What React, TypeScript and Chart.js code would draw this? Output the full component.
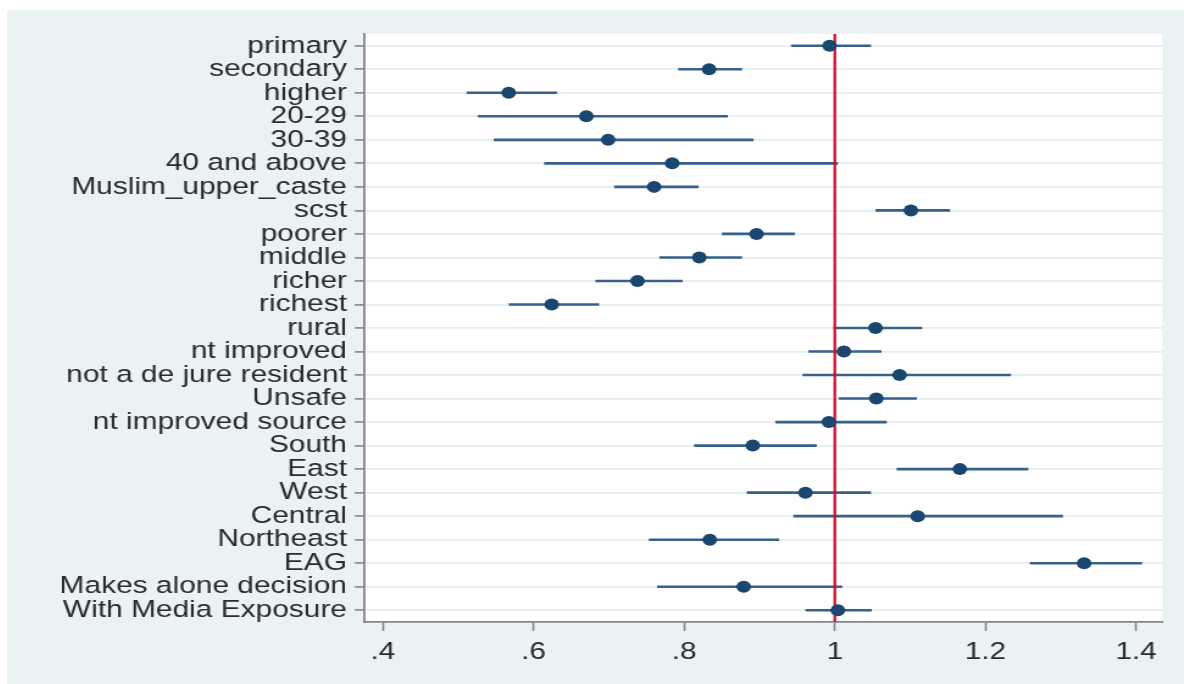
import React, { useEffect, useRef } from "react";
import { Chart, registerables } from "chart.js";

Chart.register(...registerables);

const categories = [
  "primary",
  "secondary",
  "higher",
  "20-29",
  "30-39",
  "40 and above",
  "Muslim_upper_caste",
  "scst",
  "poorer",
  "middle",
  "richer",
  "richest",
  "rural",
  "nt improved",
  "not a de jure resident",
  "Unsafe",
  "nt improved source",
  "South",
  "East",
  "West",
  "Central",
  "Northeast",
  "EAG",
  "Makes alone decision",
  "With Media Exposure",
];

const estimates = [
  0.993, 0.833, 0.567, 0.67, 0.699, 0.784, 0.76, 1.101, 0.896, 0.82, 0.738, 0.624,
  1.054, 1.012, 1.086, 1.055, 0.992, 0.891, 1.166, 0.961, 1.11, 0.834, 1.331, 0.879, 1.004,
];

const lower = [
  0.942, 0.792, 0.511, 0.526, 0.547, 0.614, 0.707, 1.054, 0.85, 0.767, 0.682, 0.567,
  0.998, 0.965, 0.957, 1.005, 0.921, 0.813, 1.082, 0.883, 0.945, 0.753, 1.259, 0.764, 0.961,
];

const upper = [
  1.048, 0.877, 0.631, 0.858, 0.892, 1.004, 0.819, 1.153, 0.947, 0.877, 0.798, 0.687,
  1.116, 1.062, 1.234, 1.109, 1.069, 0.976, 1.257, 1.048, 1.303, 0.926, 1.408, 1.01, 1.049,
];

const xTickValues = [0.4, 0.6, 0.8, 1, 1.2, 1.4];
const xTickLabels = [".4", ".6", ".8", "1", "1.2", "1.4"];
const referenceValue = 1;

const PANEL = "#eaf2f3";
const NAVY = "#1a476f";
const CI_COLOR = "#35618c";
const RED = "#c8102e";
const AXIS = "#858585";
const TEXT = "#2b2b2b";
const FONT = "'Liberation Sans', Arial, Helvetica, sans-serif";

const CANVAS_W = 965;
const CANVAS_H = 674;
const CSS_W = 1177;
const CSS_H = 674;

const backgroundPlugin = {
  id: "panelBackground",
  beforeDraw(chart: any) {
    const { ctx, chartArea } = chart;
    ctx.save();
    ctx.fillStyle = PANEL;
    ctx.fillRect(0, 0, chart.width, chart.height);
    ctx.fillStyle = "#ffffff";
    ctx.fillRect(
      chartArea.left,
      chartArea.top,
      chartArea.right - chartArea.left,
      chartArea.bottom - chartArea.top
    );
    ctx.restore();
  },
};

export default function App() {
  const canvasRef = useRef<HTMLCanvasElement | null>(null);

  useEffect(() => {
    if (!canvasRef.current) return;
    const n = categories.length;

    const ciDatasets = categories.map((c, i) => ({
      type: "line" as const,
      label: "ci " + c,
      data: [
        { x: lower[i], y: i },
        { x: upper[i], y: i },
      ],
      borderColor: CI_COLOR,
      borderWidth: 2.6,
      borderCapStyle: "butt" as const,
      pointRadius: 0,
      order: 3,
    }));

    const refLine = {
      type: "line" as const,
      label: "reference",
      data: [
        { x: referenceValue, y: -0.5 },
        { x: referenceValue, y: n - 0.5 },
      ],
      borderColor: RED,
      borderWidth: 2.2,
      pointRadius: 0,
      order: 2,
    };

    const points = {
      type: "scatter" as const,
      label: "estimate",
      data: estimates.map((v, i) => ({ x: v, y: i })),
      backgroundColor: NAVY,
      borderWidth: 0,
      pointRadius: 6,
      pointHoverRadius: 6,
      order: 1,
    };

    const chart = new Chart(canvasRef.current, {
      type: "scatter",
      data: { datasets: [...ciDatasets, refLine, points] as any },
      options: {
        responsive: false,
        animation: false,
        devicePixelRatio: 1,
        layout: { padding: { top: 24, right: 18, left: 0, bottom: 0 } },
        plugins: {
          legend: { display: false },
          tooltip: { enabled: false },
        },
        scales: {
          x: {
            type: "linear",
            min: 0.3748,
            max: 1.4345,
            afterBuildTicks: (scale: any) => {
              scale.ticks = xTickValues.map((v) => ({ value: v }));
            },
            afterFit: (scale: any) => {
              scale.height = 62;
            },
            ticks: {
              autoSkip: false,
              maxRotation: 0,
              padding: 7,
              color: TEXT,
              font: { family: FONT, size: 24.5 },
              callback: (value: any) => {
                const idx = xTickValues.findIndex((t) => Math.abs(t - Number(value)) < 1e-9);
                return idx >= 0 ? xTickLabels[idx] : "";
              },
            },
            grid: {
              display: true,
              drawOnChartArea: false,
              drawTicks: true,
              tickLength: 9,
              tickColor: AXIS,
              tickWidth: 1.6,
            },
            border: { display: true, color: AXIS, width: 1.8 },
          },
          y: {
            type: "linear",
            reverse: true,
            min: -0.5,
            max: n - 0.5,
            afterBuildTicks: (scale: any) => {
              scale.ticks = categories.map((_, i) => ({ value: i }));
            },
            afterFit: (scale: any) => {
              scale.width = 292.7;
            },
            ticks: {
              autoSkip: false,
              padding: 6.5,
              color: TEXT,
              font: { family: FONT, size: 24.5 },
              callback: (value: any) => categories[Math.round(Number(value))] ?? "",
            },
            grid: {
              display: true,
              drawOnChartArea: true,
              drawTicks: true,
              color: "#e4eef0",
              lineWidth: 1.8,
              tickLength: 7.5,
              tickColor: AXIS,
              tickWidth: 1.6,
            },
            border: { display: true, color: AXIS, width: 1.8 },
          },
        },
      },
      plugins: [backgroundPlugin],
    });

    return () => chart.destroy();
  }, []);

  return (
    <div
      style={{
        position: "fixed",
        left: 0,
        top: 0,
        width: 1184,
        height: 684,
        background: "#ffffff",
        overflow: "hidden",
      }}
    >
      <canvas
        ref={canvasRef}
        width={CANVAS_W}
        height={CANVAS_H}
        style={{
          position: "absolute",
          left: 7,
          top: 10,
          width: CSS_W + "px",
          height: CSS_H + "px",
          display: "block",
        }}
      />
    </div>
  );
}
